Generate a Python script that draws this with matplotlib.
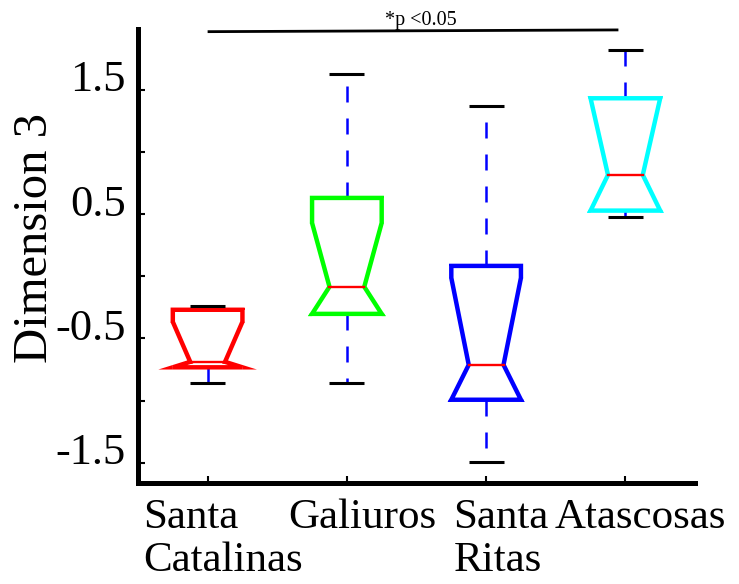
import matplotlib
matplotlib.use('agg')
import matplotlib.pyplot as plt
import matplotlib.transforms as mtransforms
from matplotlib.patches import Polygon
import numpy as np

plt.rcParams['font.family'] = ['Liberation Serif', 'DejaVu Serif']

# summary statistics per mountain range (Dimension 3 scores)
sites = ['Santa\nCatalinas', 'Galiuros', 'Santa\nRitas', 'Atascosas']
colors = ['#ff0000', '#00ff00', '#0000ff', '#00ffff']
upper_whisker = [-0.235, 1.629, 1.371, 1.822]
q3 = [-0.269, 0.631, 0.084, 1.433]
notch_hi = [-0.366, 0.430, -0.012, 1.433]
median = [-0.688, -0.084, -0.712, 0.816]
notch_lo = [-0.732, -0.302, -0.993, 0.529]
q1 = [-0.732, -0.302, -0.993, 0.529]
lower_whisker = [-0.857, -0.857, -1.492, 0.476]

sig_from, sig_to = 1, 4
sig_text = '*p <0.05'

DPI = 100
BOX_LW = 3.2

fig = plt.figure(figsize=(7.39, 5.84), dpi=DPI)
ax = fig.add_axes([138 / 739, 1 - 483 / 584, (695 - 138) / 739, (483 - 29.3) / 584])
ax.set_xlim(0.5, 4.5)
ax.set_ylim(-1.663, 1.988)

half = 0.25
positions = list(range(1, len(sites) + 1))


def unit(v):
    return v / np.hypot(*v)


def miter_spikes(verts, color, lw):
    # full (unlimited) miter corners, agg would cut them short
    pix = ax.transData.transform(np.array(verts))
    h = lw * DPI / 72 / 2
    n = len(pix)
    for k in range(n):
        p0, p1, p2 = pix[k - 1], pix[k], pix[(k + 1) % n]
        d1, d2 = unit(p1 - p0), unit(p2 - p1)
        turn = d1[0] * d2[1] - d1[1] * d2[0]
        if turn > 0:
            n1, n2 = np.array([d1[1], -d1[0]]), np.array([d2[1], -d2[0]])
        else:
            n1, n2 = np.array([-d1[1], d1[0]]), np.array([-d2[1], d2[0]])
        c = 1 + n1 @ n2
        if c < 0.02:
            continue
        tip = p1 + h * (n1 + n2) / c
        ax.add_patch(Polygon([p1, p1 + h * n1, tip, p1 + h * n2], closed=True,
                             facecolor=color, edgecolor='none', zorder=2,
                             transform=mtransforms.IdentityTransform()))


for i, x in enumerate(positions):
    # dashed whiskers, drawn outward from the box
    ax.plot([x, x], [q3[i], upper_whisker[i]], color='#0000ff', lw=1.8,
            linestyle=(0, (6.4, 6.4)), zorder=1)
    ax.plot([x, x], [q1[i], lower_whisker[i]], color='#0000ff', lw=1.8,
            linestyle=(0, (6.4, 6.4)), zorder=1)

    pts = [(x - half, q1[i]), (x - half, notch_lo[i]), (x - half / 2, median[i]),
           (x - half, notch_hi[i]), (x - half, q3[i]), (x + half, q3[i]),
           (x + half, notch_hi[i]), (x + half / 2, median[i]),
           (x + half, notch_lo[i]), (x + half, q1[i])]
    verts = [pts[0]]
    for p in pts[1:]:
        if p != verts[-1]:
            verts.append(p)
    if verts[-1] == verts[0]:
        verts.pop()
    ax.add_patch(Polygon(verts, closed=True, fill=False, edgecolor=colors[i],
                         lw=BOX_LW, joinstyle='miter', zorder=2))
    miter_spikes(verts, colors[i], BOX_LW)

    ax.plot([x - half / 2, x + half / 2], [median[i], median[i]],
            color='#ff0000', lw=1.7, zorder=3)
    for yv in (upper_whisker[i], lower_whisker[i]):
        ax.plot([x - half / 2, x + half / 2], [yv, yv], color='black',
                lw=2.2, solid_capstyle='butt', zorder=3)

# significance bar between the first and last range
ax.plot([sig_from, sig_to - 0.05], [1.969, 1.983], color='black', lw=2.0,
        clip_on=False, solid_capstyle='butt')
ax.text((sig_from + sig_to) / 2 + 0.03, 2.023, sig_text, fontsize=14.5,
        ha='center', va='baseline', clip_on=False)

ax.set_yticks([-1.5, -1.0, -0.5, 0.0, 0.5, 1.0, 1.5])
ax.set_yticklabels(['-1.5', '', '-0.5', '', '0.5', '', '1.5'])
ax.set_xticks(positions)
ax.set_xticklabels(sites, multialignment='left', linespacing=1.15)

ax.tick_params(direction='in', length=5, width=1.5)
ax.tick_params(axis='y', pad=9, labelsize=32)
ax.tick_params(axis='x', pad=11, labelsize=31)

for lab in ax.get_yticklabels():
    lab.set_transform(lab.get_transform() +
                      mtransforms.ScaledTranslation(0, 14 / DPI, fig.dpi_scale_trans))
for lab in ax.get_xticklabels():
    lab.set_transform(lab.get_transform() +
                      mtransforms.ScaledTranslation(15 / DPI, 0, fig.dpi_scale_trans))

for side in ('top', 'right'):
    ax.spines[side].set_visible(False)
for side in ('left', 'bottom'):
    ax.spines[side].set_linewidth(3.6)

fig.text(35 / 739, 1 - 238 / 584, 'Dimension 3', rotation=90, fontsize=35,
         ha='center', va='center')

fig.savefig('out.png', dpi=DPI)
